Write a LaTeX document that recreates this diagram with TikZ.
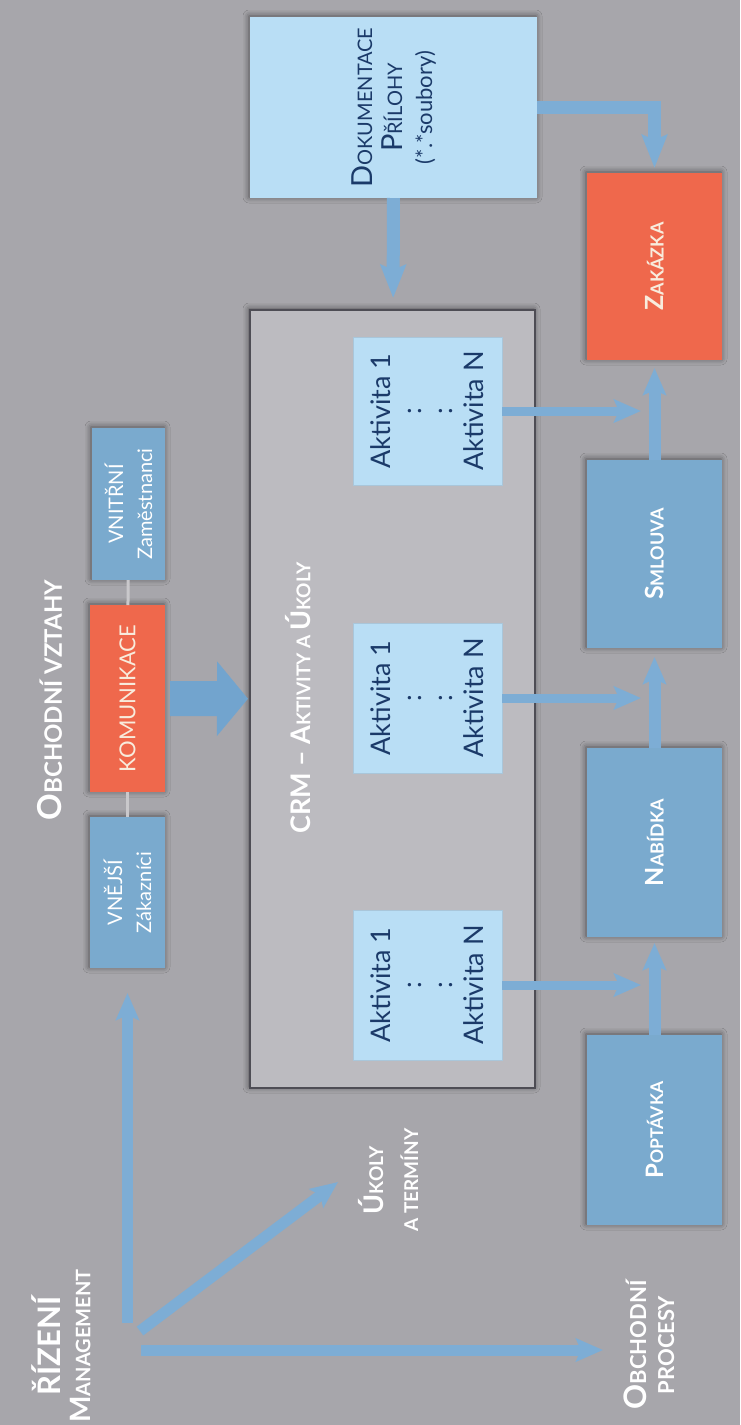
\documentclass[tikz,border=0pt]{standalone}
\usepackage{fontspec}
\setmainfont{Lato}
\usetikzlibrary{arrows.meta,shadows.blur}
\definecolor{bg}{HTML}{A7A6AB}
\definecolor{crmfill}{HTML}{BCBBC0}
\definecolor{crmline}{HTML}{4E4D55}
\definecolor{lblue}{HTML}{B9DEF5}
\definecolor{actline}{HTML}{A9C6DA}
\definecolor{mblue}{HTML}{7AAACE}
\definecolor{orng}{HTML}{EF684C}
\definecolor{arrowc}{HTML}{7DADD5}
\definecolor{arrowb}{HTML}{72A4CE}
\definecolor{navy}{HTML}{1B3A69}
\definecolor{cream}{HTML}{F8ECDD}
\definecolor{linkgray}{HTML}{C9C8CB}
\newcommand\SC[4]{{\fontsize{#1}{#1}\selectfont #3}{\fontsize{#2}{#2}\selectfont #4}}
\begin{document}
\begin{tikzpicture}[x=1pt,y=-1pt,
  box/.style={rectangle, inner sep=0pt, outer sep=0pt,
    blur shadow={shadow xshift=-1pt, shadow yshift=1pt, shadow blur radius=6pt, shadow opacity=55}},
  bluebox/.style={box, fill=mblue},
  lightbox/.style={box, fill=lblue},
  redbox/.style={box, fill=orng},
  actbox/.style={rectangle, inner sep=0pt, outer sep=0pt, fill=lblue, draw=actline, line width=1pt,
    minimum width=149pt},
  procbox/.style={minimum width=135pt},
  wlab/.style={rotate=90, text=white, font=\bfseries, align=center, inner sep=0pt},
  nlab/.style={rotate=90, text=navy, align=center, inner sep=0pt},
  arr/.style={draw=arrowc, line width=11pt, -{Stealth[length=27pt,width=23pt,inset=5pt]}},
  bigarr/.style={draw=arrowb, line width=35pt, -{Triangle[length=31pt,width=73pt]}},
  link/.style={draw=linkgray, line width=3pt}
]
\fill[bg] (0,0) rectangle (740,1425);
\useasboundingbox (0,0) rectangle (740,1425);

% documentation
\node[lightbox, minimum width=287pt, minimum height=181pt,
  label={[nlab, font=\fontsize{22}{30}\selectfont]center:{\SC{29}{20}{D}{OKUMENTACE}\\\SC{29}{20}{P}{ŘÍLOHY}\\(*.*soubory)}}]
  (dok) at (393.5,107.5) {};

% CRM frame
\node[box, fill=crmfill, draw=crmline, line width=2pt, minimum width=285pt, minimum height=778pt]
  (crm) at (392.5,699) {};
\node[wlab] (crmtitle) at (298,698) {\SC{27}{19}{CRM – A}{KTIVITY A }\SC{27}{19}{Ú}{KOLY}};

% activities
\node[actbox, minimum height=148pt,
  label={[nlab, font=\fontsize{27}{31}\selectfont]center:{Aktivita 1\\:\\:\\Aktivita N}}]
  (act1) at (427.5,411) {};
\node[actbox, minimum height=150pt,
  label={[nlab, font=\fontsize{27}{31}\selectfont]center:{Aktivita 1\\:\\:\\Aktivita N}}]
  (act2) at (427.5,698) {};
\node[actbox, minimum height=150pt,
  label={[nlab, font=\fontsize{27}{31}\selectfont]center:{Aktivita 1\\:\\:\\Aktivita N}}]
  (act3) at (427.5,985) {};

% business relations
\node[wlab, font=\bfseries\fontsize{24}{30}\selectfont] (vztahy) at (50,700) {\SC{33}{24}{O}{BCHODNÍ VZTAHY}};
\node[bluebox, minimum width=73pt, minimum height=152pt,
  label={[wlab, font=\fontsize{20}{29}\selectfont]center:{VNITŘNÍ\\Zaměstnanci}}]
  (vnitr) at (128.5,504) {};
\node[redbox, minimum width=75pt, minimum height=187pt,
  label={[wlab, text=cream, font=\fontsize{22}{22}\selectfont]center:{KOMUNIKACE}}]
  (komu) at (127.5,698.5) {};
\node[bluebox, minimum width=75pt, minimum height=151pt,
  label={[wlab, font=\fontsize{20}{29}\selectfont]center:{VNĚJŠÍ\\Zákazníci}}]
  (vnej) at (127.5,892.5) {};
\draw[link] (vnitr) -- (komu);
\draw[link] (komu) -- (vnej);

% process chain
\node[redbox, procbox, minimum height=187pt,
  label={[wlab, text=cream, font=\bfseries\fontsize{18}{18}\selectfont]center:{\SC{25}{18}{Z}{AKÁZKA}}}]
  (zak) at (654.5,266.5) {};
\node[bluebox, procbox, minimum height=188pt,
  label={[wlab, font=\bfseries\fontsize{18}{18}\selectfont]center:{\SC{25}{18}{S}{MLOUVA}}}]
  (sml) at (654.5,554) {};
\node[bluebox, procbox, minimum height=189pt,
  label={[wlab, font=\bfseries\fontsize{18}{18}\selectfont]center:{\SC{25}{18}{N}{ABÍDKA}}}]
  (nab) at (654.5,842.5) {};
\node[bluebox, procbox, minimum height=190pt,
  label={[wlab, font=\bfseries\fontsize{18}{18}\selectfont]center:{\SC{24}{17.5}{P}{OPTÁVKA}}}]
  (popt) at (654.5,1130) {};

\draw[arr, line width=12pt, shorten >=6pt] (popt) -- (nab);
\draw[arr, line width=12pt, shorten >=9pt] (nab) -- (sml);
\draw[arr, line width=12pt, shorten >=8pt] (sml) -- (zak);

\coordinate (t1) at (641,411);
\coordinate (t2) at (641,698);
\coordinate (t3) at (641,985);
\draw[arr, line width=9pt] (act1.east) -- (t1);
\draw[arr, line width=9pt] (act2.east) -- (t2);
\draw[arr, line width=9pt] (act3.east) -- (t3);

% documentation arrows
\draw[arr, line width=13pt, -{Stealth[length=33pt,width=25pt,inset=5pt]}, shorten >=12pt] (dok) -- (crm);
\draw[arr, line width=13pt, -{Stealth[length=33pt,width=25pt,inset=5pt]}, shorten >=5pt] (dok.east) -| (zak.north);

% communication arrow
\draw[bigarr, shorten <=5pt, shorten >=2pt] (komu) -- (crm);

% management
\node[wlab, font=\bfseries\fontsize{20}{30}\selectfont] (rizeni) at (61,1346)
  {{\fontsize{31}{31}\selectfont ŘÍZENÍ}\\\SC{28}{20}{M}{ANAGEMENT}};
\node[wlab, font=\bfseries\fontsize{19}{35}\selectfont] (ukoly) at (388,1180)
  {\SC{27}{19}{Ú}{KOLY}\\A TERMÍNY};
\node[wlab, font=\bfseries\fontsize{22}{28}\selectfont] (procesy) at (649,1345)
  {\SC{31}{22}{O}{BCHODNÍ}\\PROCESY};

\coordinate (m1) at (127.5,1323);
\coordinate (m2) at (140,1331);
\coordinate (m2t) at (338,1182);
\coordinate (m3) at (141,1350);
\coordinate (m3t) at (603,1350);
\draw[arr, shorten >=25pt] (m1) -- (vnej);
\draw[arr] (m2) -- (m2t);
\draw[arr] (m3) -- (m3t);
\end{tikzpicture}
\end{document}
